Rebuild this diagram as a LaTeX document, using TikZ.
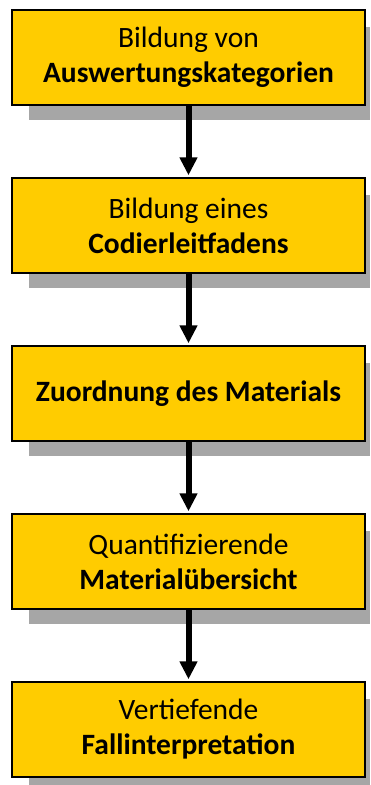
\documentclass[tikz,border=0pt]{standalone}
\usepackage{fontspec}
\setmainfont{Carlito}
\usetikzlibrary{arrows.meta}
\definecolor{boxgold}{HTML}{FFCC00}
\definecolor{shadowgray}{HTML}{A6A6A6}
\tikzset{
  stepbox/.style={draw=black, line width=1.4pt, fill=boxgold, minimum width=353pt, minimum height=95pt, inner sep=0pt, align=center, font=\fontsize{29.5}{35}\selectfont},
  flowarrow/.style={line width=6pt, -{Triangle[width=17pt,length=18pt]}, shorten >=2pt}
}
\begin{document}
\begin{tikzpicture}[x=1pt,y=1pt]
\useasboundingbox (0,0) rectangle (370,785);
\coordinate (c1) at (188.5,727.5);
\coordinate (c2) at (188.5,559.5);
\coordinate (c3) at (188.5,391.5);
\coordinate (c4) at (188.5,223.5);
\coordinate (c5) at (188.5,55.5);
% shadows
\foreach \c in {c1,c2,c3,c4,c5}{
  \fill[shadowgray] ([xshift=-159.5pt,yshift=-62.5pt]\c) rectangle ([xshift=181.5pt,yshift=30.5pt]\c);
}
\node[stepbox] (b1) at (c1) {Bildung von\\\textbf{Auswertungskategorien}};
\node[stepbox] (b2) at (c2) {Bildung eines\\\textbf{Codierleitfadens}};
\node[stepbox] (b3) at (c3) {\textbf{Zuordnung des Materials}};
\node[stepbox] (b4) at (c4) {Quantifizierende\\\textbf{Materialübersicht}};
\node[stepbox] (b5) at (c5) {Vertiefende\\\textbf{Fallinterpretation}};
\draw[flowarrow] (b1.south) -- (b2.north);
\draw[flowarrow] (b2.south) -- (b3.north);
\draw[flowarrow] (b3.south) -- (b4.north);
\draw[flowarrow] (b4.south) -- (b5.north);
\end{tikzpicture}
\end{document}
